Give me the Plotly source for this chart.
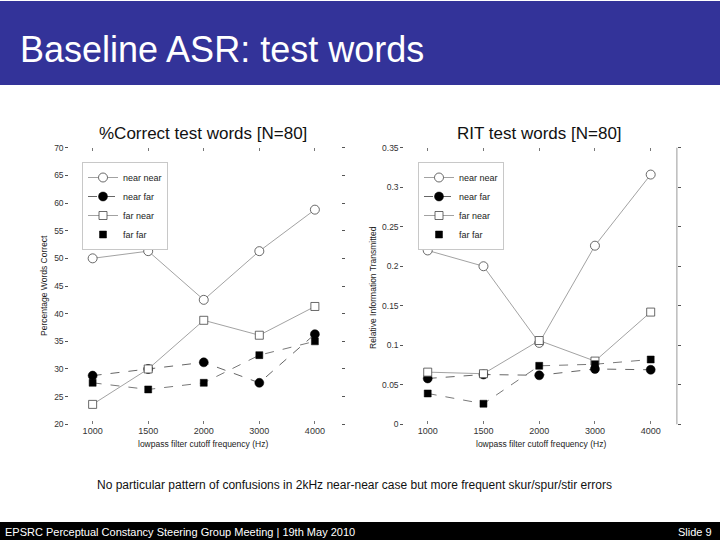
import plotly.graph_objects as go

# ---------------- data ----------------
freqs = ["1000", "1500", "2000", "3000", "4000"]

pc_near_near = [50.0, 51.3, 42.5, 51.3, 58.8]
pc_near_far = [28.8, 30.0, 31.2, 27.5, 36.3]
pc_far_near = [23.6, 30.0, 38.8, 36.1, 41.3]
pc_far_far = [27.5, 26.3, 27.5, 32.5, 35.0]

rit_near_near = [0.220, 0.200, 0.103, 0.226, 0.316]
rit_near_far = [0.058, 0.063, 0.062, 0.070, 0.069]
rit_far_near = [0.066, 0.064, 0.106, 0.080, 0.142]
rit_far_far = [0.039, 0.026, 0.074, 0.076, 0.082]

series_names = ["near near", "near far", "far near", "far far"]

title_text = "Baseline ASR: test words"
left_title = "%Correct test words [N=80]"
right_title = "RIT test words [N=80]"
left_ylabel = "Percentage Words Correct"
right_ylabel = "Relative Information Transmitted"
xlabel = "lowpass filter cutoff frequency (Hz)"
caption = "No particular pattern of confusions in 2kHz near-near case but more frequent skur/spur/stir errors"
footer_left = "EPSRC Perceptual Constancy Steering Group Meeting | 19th May 2010"
footer_right = "Slide 9"

# ---------------- styles ----------------
FONT = "Liberation Sans, Arial, sans-serif"
W, H = 720, 550
def px(x):
    return x / W
def py(y):
    # y given in 540-px slide coordinates
    return 1 - y / 540.0

styles = {
    "near near": dict(symbol="circle", color="#444444", size=9, fill="white",
                      line=dict(color="#8a8a8a", width=0.8, dash="solid")),
    "near far": dict(symbol="circle", color="#000000", size=9, fill="#000000",
                     line=dict(color="#555555", width=0.9, dash="dash")),
    "far near": dict(symbol="square", color="#444444", size=8, fill="white",
                     line=dict(color="#8a8a8a", width=0.8, dash="solid")),
    "far far": dict(symbol="square", color="#000000", size=7, fill="#000000",
                    line=dict(color="#555555", width=0.8, dash="dash")),
}

fig = go.Figure()

def add_panel(values, xa, ya, legend):
    for name, vals in zip(series_names, values):
        st = styles[name]
        if name == "far far":
            fig.add_trace(go.Scatter(
                x=freqs, y=vals, mode="lines", line=st["line"],
                xaxis=xa, yaxis=ya, showlegend=False, hoverinfo="skip"))
            fig.add_trace(go.Scatter(
                x=freqs, y=vals, mode="markers", name=name,
                marker=dict(symbol="square", size=st["size"], color="#000000",
                            line=dict(color="#000000", width=0.5)),
                xaxis=xa, yaxis=ya, legend=legend))
        else:
            filled = st["fill"] != "white"
            fig.add_trace(go.Scatter(
                x=freqs, y=vals, mode="lines+markers", name=name,
                line=st["line"],
                marker=dict(symbol=st["symbol"], size=st["size"],
                            color=st["fill"],
                            line=dict(color=st["color"], width=0.5 if filled else 0.8)),
                xaxis=xa, yaxis=ya, legend=legend))

add_panel([pc_near_near, pc_near_far, pc_far_near, pc_far_far], "x", "y", "legend")
add_panel([rit_near_near, rit_near_far, rit_far_near, rit_far_far], "x2", "y2", "legend2")

ytop, ybot = 146.7, 423.3
y_common = dict(
    showgrid=False, zeroline=False, showline=False,
    ticks="outside", ticklen=3, tickcolor="#555555", tickwidth=1,
    mirror="ticks",
    tickfont=dict(family=FONT, size=8.5, color="#333333"),
)
x_common = dict(
    showgrid=False, zeroline=False, showline=False,
    ticks="inside", ticklen=3, tickcolor="#777777", tickwidth=1,
    mirror="ticks", type="category", range=[-0.42, 4.47],
    tickfont=dict(family=FONT, size=9, color="#333333"),
)

legend_common = dict(xanchor="left", yanchor="top",
                     bgcolor="white", bordercolor="#c8c8c8", borderwidth=1,
                     font=dict(family=FONT, size=9, color="#222222"),
                     itemwidth=30, tracegroupgap=0)

fig.update_layout(
    width=W, height=H,
    margin=dict(l=0, r=0, t=0, b=0),
    paper_bgcolor="white", plot_bgcolor="white",
    font=dict(family=FONT),
    xaxis=dict(domain=[px(69.3), px(341.0)], anchor="y", **x_common),
    yaxis=dict(domain=[py(ybot), py(ytop)], range=[20, 70], dtick=5, tick0=20,
               anchor="x", **y_common),
    xaxis2=dict(domain=[px(404.3), px(676.9)], anchor="y2", **x_common),
    yaxis2=dict(domain=[py(ybot), py(ytop)], range=[0, 0.35], dtick=0.05, tick0=0,
                anchor="x2", **y_common),
    legend=dict(x=px(82), y=py(161), **legend_common),
    legend2=dict(x=px(418), y=py(161), **legend_common),
    showlegend=True,
)

shapes = [
    dict(type="rect", xref="paper", yref="paper", x0=0, x1=1, y0=py(84), y1=1,
         fillcolor="#333399", line=dict(width=0), layer="below"),
    dict(type="rect", xref="paper", yref="paper", x0=0, x1=1, y0=0, y1=py(521),
         fillcolor="#000000", line=dict(width=0), layer="below"),
    dict(type="line", xref="x2 domain", yref="y2 domain", x0=1, x1=1, y0=0, y1=1,
         line=dict(color="#999999", width=1)),
]
fig.update_layout(shapes=shapes)

ann = [
    dict(text=title_text, x=px(18), y=py(48), xanchor="left", yanchor="middle",
         font=dict(family=FONT, size=36, color="white")),
    dict(text=left_title, x=px(202.5), y=py(132), xanchor="center", yanchor="middle",
         font=dict(family=FONT, size=17, color="#111111")),
    dict(text=right_title, x=px(539), y=py(132), xanchor="center", yanchor="middle",
         font=dict(family=FONT, size=17, color="#111111")),
    dict(text=left_ylabel, x=px(44), y=py(285), xanchor="center", yanchor="middle",
         textangle=-90, font=dict(family=FONT, size=8.5, color="#222222")),
    dict(text=right_ylabel, x=px(373), y=py(287), xanchor="center", yanchor="middle",
         textangle=-90, font=dict(family=FONT, size=8.5, color="#222222")),
    dict(text=xlabel, x=px(202.5), y=py(443), xanchor="center", yanchor="middle",
         font=dict(family=FONT, size=8.5, color="#222222")),
    dict(text=xlabel, x=px(541), y=py(443), xanchor="center", yanchor="middle",
         font=dict(family=FONT, size=8.5, color="#222222")),
    dict(text=caption, x=px(354), y=py(484), xanchor="center", yanchor="middle",
         font=dict(family=FONT, size=12, color="#111111")),
    dict(text=footer_left, x=px(3), y=py(531), xanchor="left", yanchor="middle",
         font=dict(family=FONT, size=11, color="white")),
    dict(text=footer_right, x=px(714), y=py(531), xanchor="right", yanchor="middle",
         font=dict(family=FONT, size=11, color="white")),
]
for a in ann:
    a.update(xref="paper", yref="paper", showarrow=False)
fig.update_layout(annotations=ann)

fig.write_html(
    "out.html",
    config={"displayModeBar": False},
    post_script=(
        "document.documentElement.style.margin='0px';"
        "document.documentElement.style.background='linear-gradient(#333399 50%, #000000 50%)';"
        "document.body.style.margin='0px';document.body.style.padding='0px';"
        "document.body.style.overflow='hidden';"
        "var gd=document.getElementById('{plot_id}');"
        "gd.style.position='fixed';gd.style.top='-4px';gd.style.left='0px';"
    ),
)
